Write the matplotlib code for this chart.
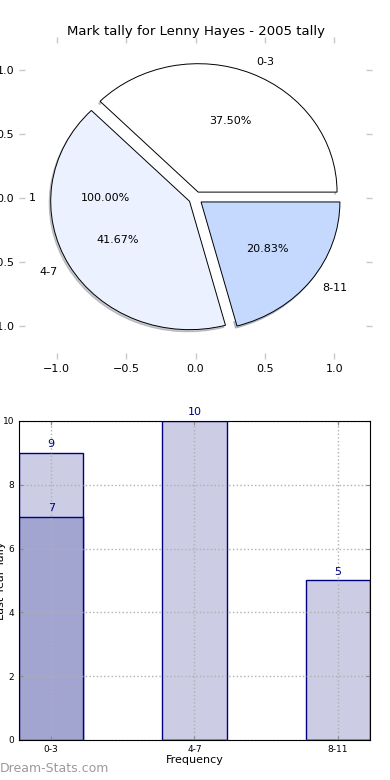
import numpy as np
import matplotlib
matplotlib.use("Agg")
import matplotlib.pyplot as plt

# data
categories = ["0-3", "4-7", "8-11"]
tally_2005 = [9, 10, 5]
tally_prev = [7, 0, 0]
pie_colors = ["#ffffff", "#ebf1fe", "#c5d8fe"]
explode = [0.05, 0.05, 0.05]
navy = "#000080"

fig = plt.figure(figsize=(3.9, 7.8), dpi=100)

# --- pie chart (top) ---
ax1 = fig.add_axes([0.0564, 0.5436, 0.89, 0.405])
# leftover single-value pie underneath (gives the "1" / "100.00%" labels)
ax1.pie([1], labels=["1"], autopct="%1.2f%%", colors=["white"], frame=True,
        labeldistance=1.15, pctdistance=0.65,
        wedgeprops=dict(linewidth=0), textprops=dict(fontsize=8))
ax1.pie(tally_2005, labels=categories, autopct="%1.2f%%", colors=pie_colors,
        explode=explode, frame=True,
        shadow=dict(ox=-0.008, oy=-0.012, shade=0.4),
        wedgeprops=dict(edgecolor="black", linewidth=0.7),
        textprops=dict(fontsize=8))
ax1.set_aspect("auto")
ax1.set_xlim(-1.25, 1.25)
ax1.set_ylim(-1.23, 1.23)
ax1.set_xticks([-1.0, -0.5, 0.0, 0.5, 1.0])
ax1.set_yticks([-1.0, -0.5, 0.0, 0.5, 1.0])
for s in ax1.spines.values():
    s.set_visible(False)
ax1.tick_params(axis="both", which="both", direction="inout", length=4,
                width=1, color="#c8c8c8", labelsize=8, top=True, right=True)
ax1.set_title("Mark tally for Lenny Hayes - 2005 tally", fontsize=9.5, pad=4)

# --- bar chart (bottom) ---
ax2 = fig.add_axes([0.0487, 0.0513, 0.9, 0.409])
x = np.arange(len(categories))
w = 0.45
ax2.bar(x, tally_2005, w, color="#ccccE4", edgecolor=navy, linewidth=1)
ax2.bar(x, tally_prev, w, color="#a3a5d1", edgecolor=navy, linewidth=1)
for i in range(len(categories)):
    ax2.text(x[i], tally_2005[i] + 0.12, str(tally_2005[i]), ha="center",
             va="bottom", color=navy, fontsize=8, clip_on=False)
    if tally_prev[i] > 0:
        ax2.text(x[i], tally_prev[i] + 0.12, str(tally_prev[i]), ha="center",
                 va="bottom", color=navy, fontsize=8)
ax2.set_xlim(-w / 2, len(categories) - 1 + w / 2)
ax2.set_ylim(0, 10)
ax2.set_xticks(x)
ax2.set_xticklabels(categories)
ax2.set_yticks([0, 2, 4, 6, 8, 10])
ax2.tick_params(axis="both", direction="in", length=3, labelsize=6.5,
                top=True, right=True, color="#888888")
ax2.grid(True, linestyle=":", color="#b0b0b0", linewidth=1)
ax2.set_axisbelow(False)
for s in ax2.spines.values():
    s.set_zorder(5)
ax2.set_xlabel("Frequency", fontsize=8, labelpad=1)
ax2.set_ylabel("Last Year Tally", fontsize=8)
ax2.yaxis.set_label_coords(-0.037, 0.5)

fig.text(0.0, 0.006, "Dream-Stats.com", color="#9a9a9a", fontsize=9,
         ha="left", va="bottom")

fig.savefig("out.png", dpi=100)
